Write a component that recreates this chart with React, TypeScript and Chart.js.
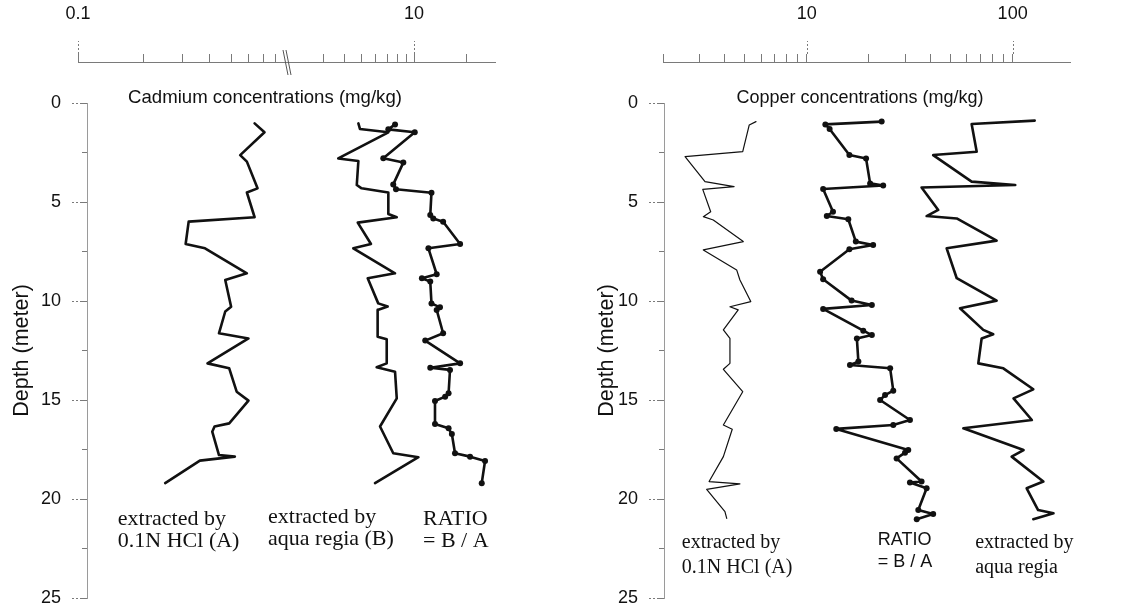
import React, { useEffect, useRef } from 'react';
import { Chart, registerables, LogarithmicScale } from 'chart.js';

Chart.register(...registerables);

const SANS = "'Liberation Sans', Arial, Helvetica, sans-serif";
const SERIF = "'Liberation Serif', 'Times New Roman', Times, serif";
const INK = '#111111';
const AXIS = '#7a7a7a';

// ---- depth axis ----
const depthTicks = [0, 2.5, 5, 7.5, 10, 12.5, 15, 17.5, 20, 22.5, 25];
const depthLabels = [0, 5, 10, 15, 20, 25];

// ---- cadmium (broken log axis) ----
const cdTicks = [0.1, 0.2, 0.3, 0.4, 0.5, 0.6, 0.7, 0.8, 3, 4, 5, 6, 7, 8, 9, 10, 20];
const cdTickLabels = [0.1, 10];

const cdHclDepth = [1.03, 1.48, 2.63, 2.96, 4.31, 4.52, 5.77, 5.99, 7.12, 7.34, 8.6, 8.94, 10.29, 10.53, 11.63, 11.89, 13.15, 13.4, 14.58, 15.03, 16.18, 16.34, 16.6, 17.78, 17.86, 18.06, 19.2];
const cdHclValue = [0.64, 0.71, 0.55, 0.59, 0.66, 0.59, 0.64, 0.32, 0.31, 0.38, 0.59, 0.47, 0.5, 0.47, 0.44, 0.6, 0.39, 0.49, 0.53, 0.6, 0.49, 0.42, 0.41, 0.44, 0.52, 0.36, 0.25];

const cdAquaDepth = [1.03, 1.31, 1.48, 2.8, 2.93, 4.14, 4.31, 4.52, 5.61, 5.77, 6.04, 7.12, 7.34, 8.6, 8.85, 10.12, 10.28, 10.45, 11.8, 11.93, 13.15, 13.35, 13.57, 14.92, 16.34, 17.69, 17.89, 19.2];
const cdAquaValue = [4.79, 4.89, 7.12, 3.67, 4.79, 4.69, 5.0, 7.12, 7.12, 7.96, 4.75, 5.66, 4.48, 7.78, 5.42, 6.23, 7.06, 6.18, 6.18, 6.97, 6.97, 6.1, 7.78, 7.96, 6.38, 7.6, 10.6, 5.97];

const cdRatioDepth = [1.08, 1.33, 1.48, 2.79, 3.01, 4.11, 4.36, 4.53, 5.66, 5.83, 6.0, 7.12, 7.34, 8.65, 8.85, 9.02, 10.12, 10.32, 10.45, 11.63, 12.0, 13.15, 13.37, 13.48, 14.66, 14.83, 15.05, 16.21, 16.43, 16.72, 17.69, 17.86, 18.08, 19.2];
const cdRatioValue = [7.78, 7.12, 10.1, 6.66, 8.68, 7.6, 7.88, 12.6, 12.4, 12.9, 14.7, 18.4, 12.1, 13.5, 11.1, 12.4, 12.6, 14.1, 13.5, 14.7, 11.6, 18.4, 12.4, 16.1, 15.8, 15.1, 13.2, 13.2, 15.8, 16.5, 17.2, 21.0, 25.6, 24.5];

// ---- copper (log axis) ----
const cuTicks = [2, 3, 4, 5, 6, 7, 8, 9, 10, 20, 30, 40, 50, 60, 70, 80, 90, 100];
const cuTickLabels = [10, 100];

const cuHclDepth = [0.94, 1.11, 2.46, 2.71, 3.97, 4.22, 4.36, 5.49, 5.74, 5.91, 7.0, 7.42, 8.43, 8.94, 10.03, 10.29, 10.45, 11.46, 11.89, 13.15, 13.45, 14.58, 16.26, 16.48, 17.86, 19.12, 19.24, 19.51, 20.64, 20.98];
const cuHclValue = [5.66, 5.25, 4.88, 2.56, 3.2, 4.43, 3.12, 3.41, 3.14, 3.51, 4.91, 3.14, 4.56, 4.73, 5.34, 4.23, 4.64, 3.93, 4.23, 4.23, 3.93, 4.88, 3.93, 4.34, 3.93, 3.35, 4.73, 3.26, 4.0, 4.08];

const cuRatioDepth = [0.94, 1.08, 1.31, 2.63, 2.8, 4.06, 4.17, 4.34, 5.49, 5.71, 5.87, 7.0, 7.17, 7.39, 8.52, 8.9, 9.98, 10.2, 10.4, 11.5, 11.72, 11.89, 13.06, 13.23, 13.4, 14.53, 14.75, 15.0, 16.01, 16.26, 16.46, 17.53, 17.66, 17.95, 19.12, 19.17, 19.46, 20.56, 20.76, 21.02];
const cuRatioValue = [23.1, 12.3, 12.9, 16.1, 19.4, 20.3, 23.5, 12.0, 13.4, 12.5, 15.9, 17.3, 21.0, 16.1, 11.6, 12.0, 16.5, 20.7, 12.0, 18.8, 20.7, 17.5, 17.8, 16.2, 25.4, 26.3, 24.0, 22.7, 31.7, 26.3, 13.9, 31.1, 30.0, 27.3, 36.1, 31.7, 38.2, 34.8, 41.1, 34.2];

const cuAquaDepth = [0.89, 1.06, 2.46, 2.63, 3.97, 4.14, 4.27, 5.4, 5.71, 5.83, 6.95, 7.34, 8.85, 9.98, 10.37, 11.46, 11.68, 11.89, 13.15, 13.4, 14.46, 14.92, 16.01, 16.43, 17.53, 17.86, 19.12, 19.46, 20.56, 20.72, 21.02];
const cuAquaValue = [128, 63.2, 66.9, 41.1, 63.2, 103, 36.1, 43.5, 38.2, 53.5, 83.6, 47.8, 53.5, 83.6, 55.5, 72.0, 80.5, 70.7, 68.1, 90.1, 126, 101, 124, 57.6, 113, 98.9, 141, 117, 133, 158, 126];

// ---- broken logarithmic scale ----
class BrokenLogScale extends LogarithmicScale {
  static id = 'brokenLog';
  _parts() {
    const o: any = this.options;
    return {
      lmin: Math.log10(this.min),
      lmax: Math.log10(this.max),
      lLow: Math.log10(o.lowMax),
      lHigh: Math.log10(o.highMin),
      split: o.split,
      lowMax: o.lowMax,
      highMin: o.highMin,
    };
  }
  getPixelForValue(value: any) {
    const p = this._parts();
    let v = Number(value);
    if (!isFinite(v) || v <= 0) v = this.min;
    const lv = Math.log10(v);
    let f;
    if (v <= p.lowMax) f = (p.split * (lv - p.lmin)) / (p.lLow - p.lmin);
    else if (v >= p.highMin) f = p.split + ((1 - p.split) * (lv - p.lHigh)) / (p.lmax - p.lHigh);
    else f = p.split;
    return this.getPixelForDecimal(f);
  }
  getValueForPixel(pixel: number) {
    const p = this._parts();
    const d = this.getDecimalForPixel(pixel);
    if (d <= p.split) return Math.pow(10, p.lmin + (d / p.split) * (p.lLow - p.lmin));
    return Math.pow(10, p.lHigh + ((d - p.split) / (1 - p.split)) * (p.lmax - p.lHigh));
  }
}
Chart.register(BrokenLogScale);

function series(values: number[], depths: number[], width: number, radius: number) {
  return {
    data: values.map((v, i) => ({ x: v, y: depths[i] })),
    borderColor: INK,
    backgroundColor: INK,
    borderWidth: width,
    pointRadius: radius,
    pointHoverRadius: radius,
    pointBackgroundColor: INK,
    pointBorderWidth: 0,
    tension: 0,
    fill: false,
    borderJoinStyle: 'round',
    borderCapStyle: 'round',
  };
}

function makeDecor(cfg: any) {
  return {
    id: 'decor',
    afterLayout(chart: any) {
      const y = chart.scales.y;
      y.left += cfg.yShift;
      y.right += cfg.yShift;
      const t = chart.scales.x2;
      t.left += cfg.titleShift;
      t.right += cfg.titleShift;
    },
    afterDraw(chart: any) {
      const ctx = chart.ctx;
      const xs = chart.scales.x;
      const ys = chart.scales.y;
      ctx.save();
      ctx.strokeStyle = AXIS;
      ctx.lineWidth = 1;
      ctx.setLineDash([2, 2]);
      cfg.xMajor.forEach((v: number) => {
        const px = Math.round(xs.getPixelForValue(v)) + 0.5;
        ctx.beginPath();
        ctx.moveTo(px, xs.bottom - 8);
        ctx.lineTo(px, xs.bottom - 21);
        ctx.stroke();
      });
      depthLabels.forEach((d) => {
        const py = Math.round(ys.getPixelForValue(d)) + 0.5;
        ctx.beginPath();
        ctx.moveTo(ys.right - 5, py);
        ctx.lineTo(ys.right - 17, py);
        ctx.stroke();
      });
      ctx.setLineDash([]);
      if (cfg.breakSplit != null) {
        const bx = xs.getPixelForDecimal(cfg.breakSplit);
        ctx.strokeStyle = '#555';
        [[-5, 0], [-2, 3]].forEach(([a, b]) => {
          ctx.beginPath();
          ctx.moveTo(bx + a, xs.bottom - 12);
          ctx.lineTo(bx + b, xs.bottom + 13);
          ctx.stroke();
        });
      }
      ctx.fillStyle = INK;
      ctx.textAlign = 'left';
      ctx.textBaseline = 'middle';
      cfg.notes.forEach((n: any) => {
        ctx.font = `${n.size}px ${n.family}`;
        const x = xs.getPixelForValue(n.x);
        const y = ys.getPixelForValue(n.depth);
        n.lines.forEach((s: string, i: number) => ctx.fillText(s, x, y + i * n.lineHeight));
      });
      ctx.restore();
    },
  };
}

function yAxis(width: number, titlePad: number) {
  return {
    type: 'linear',
    position: 'left',
    reverse: true,
    min: 0,
    max: 25,
    bounds: 'data',
    afterBuildTicks: (s: any) => {
      s.ticks = depthTicks.map((v) => ({ value: v }));
    },
    afterFit: (s: any) => {
      s.width = width;
      s.paddingTop = 0;
      s.paddingBottom = 0;
    },
    ticks: {
      autoSkip: false,
      padding: 21,
      color: INK,
      font: { family: SANS, size: 18 },
      callback: (v: number) => (depthLabels.includes(v) ? String(v) : ''),
    },
    grid: { display: true, drawOnChartArea: false, drawTicks: true, tickLength: 5, tickColor: AXIS, lineWidth: 1 },
    border: { display: true, color: '#9a9a9a', width: 1, dash: [6, 2] },
    title: {
      display: true,
      text: 'Depth (meter)',
      color: INK,
      font: { family: SANS, size: 21.5 },
      padding: { top: titlePad, bottom: 0 },
    },
  };
}

function titleAxis(text: string, size: number) {
  return {
    type: 'linear',
    position: 'top',
    weight: 0,
    min: 0,
    max: 1,
    afterFit: (s: any) => {
      s.height = 41;
      s.paddingLeft = 0;
      s.paddingRight = 0;
    },
    ticks: { display: false },
    grid: { display: false },
    border: { display: false },
    title: { display: true, text, color: INK, font: { family: SANS, size }, padding: { top: 25, bottom: 0 } },
  };
}

function xTickOpts(labels: number[]) {
  return {
    autoSkip: false,
    maxRotation: 0,
    minRotation: 0,
    padding: 29,
    color: INK,
    font: { family: SANS, size: 18 },
    callback: (v: number) => (labels.includes(v) ? String(v) : ''),
  };
}

function xFit(s: any) {
  s.height = 62;
  s.paddingLeft = 0;
  s.paddingRight = 0;
}

function leftConfig(): any {
  return {
    type: 'line',
    data: {
      datasets: [
        series(cdHclValue, cdHclDepth, 2.6, 0),
        series(cdAquaValue, cdAquaDepth, 2.6, 0),
        series(cdRatioValue, cdRatioDepth, 2.6, 3),
      ],
    },
    options: {
      animation: false,
      responsive: false,
      devicePixelRatio: 1,
      layout: { padding: { left: 0, top: 0, right: 65, bottom: 11 } },
      plugins: { legend: { display: false }, tooltip: { enabled: false } },
      events: [],
      scales: {
        x: {
          type: 'brokenLog',
          position: 'top',
          weight: 1,
          min: 0.1,
          max: 29.2,
          lowMax: 0.909,
          highMin: 1.888,
          split: 0.5036,
          bounds: 'data',
          afterBuildTicks: (s: any) => {
            s.ticks = cdTicks.map((v) => ({ value: v }));
          },
          afterFit: xFit,
          ticks: xTickOpts(cdTickLabels),
          grid: { display: true, drawOnChartArea: false, drawTicks: true, tickLength: 8, tickColor: AXIS, lineWidth: 1 },
          border: { display: true, color: AXIS, width: 1 },
        },
        x2: titleAxis('Cadmium concentrations (mg/kg)', 18.6),
        y: yAxis(78, 0),
      },
    },
    plugins: [
      makeDecor({
        yShift: 9,
        titleShift: -21.5,
        xMajor: cdTickLabels,
        breakSplit: 0.5036,
        notes: [
          { lines: ['extracted by', '0.1N HCl (A)'], x: 0.152, depth: 21.0, size: 22, family: SERIF, lineHeight: 22 },
          { lines: ['extracted by', 'aqua regia (B)'], x: 0.737, depth: 20.9, size: 22, family: SERIF, lineHeight: 22 },
          { lines: ['RATIO', '= B / A'], x: 11.26, depth: 21.0, size: 22, family: SERIF, lineHeight: 22 },
        ],
      }),
    ],
  };
}

function rightConfig(): any {
  return {
    type: 'line',
    data: {
      datasets: [
        series(cuHclValue, cuHclDepth, 1.2, 0),
        series(cuRatioValue, cuRatioDepth, 2.6, 3),
        series(cuAquaValue, cuAquaDepth, 2.6, 0),
      ],
    },
    options: {
      animation: false,
      responsive: false,
      devicePixelRatio: 1,
      layout: { padding: { left: 0, top: 0, right: 57, bottom: 11 } },
      plugins: { legend: { display: false }, tooltip: { enabled: false } },
      events: [],
      scales: {
        x: {
          type: 'logarithmic',
          position: 'top',
          weight: 1,
          min: 2,
          max: 190,
          bounds: 'data',
          afterBuildTicks: (s: any) => {
            s.ticks = cuTicks.map((v) => ({ value: v }));
          },
          afterFit: xFit,
          ticks: xTickOpts(cuTickLabels),
          grid: { display: true, drawOnChartArea: false, drawTicks: true, tickLength: 8, tickColor: AXIS, lineWidth: 1 },
          border: { display: true, color: AXIS, width: 1 },
        },
        x2: titleAxis('Copper concentrations (mg/kg)', 18),
        y: yAxis(103, 33),
      },
    },
    plugins: [
      makeDecor({
        yShift: 1,
        titleShift: -6.5,
        xMajor: cuTickLabels,
        breakSplit: null,
        notes: [
          { lines: ['extracted by', '0.1N HCl (A)'], x: 2.47, depth: 22.2, size: 20, family: SERIF, lineHeight: 25 },
          { lines: ['RATIO', '= B / A'], x: 22.1, depth: 22.07, size: 18, family: SANS, lineHeight: 22.5 },
          { lines: ['extracted by', 'aqua regia'], x: 65.8, depth: 22.2, size: 20, family: SERIF, lineHeight: 25 },
        ],
      }),
    ],
  };
}

export default function App() {
  const leftRef = useRef<HTMLCanvasElement>(null);
  const rightRef = useRef<HTMLCanvasElement>(null);
  useEffect(() => {
    const a = new Chart(leftRef.current as HTMLCanvasElement, leftConfig());
    const b = new Chart(rightRef.current as HTMLCanvasElement, rightConfig());
    return () => {
      a.destroy();
      b.destroy();
    };
  }, []);
  return (
    <div style={{ position: 'absolute', left: 0, top: 0, width: 1127, height: 609, background: '#ffffff', overflow: 'hidden' }}>
      <canvas ref={leftRef} width={560} height={609} style={{ position: 'absolute', left: 0, top: 0, width: 560, height: 609 }} />
      <canvas ref={rightRef} width={567} height={609} style={{ position: 'absolute', left: 560, top: 0, width: 567, height: 609 }} />
    </div>
  );
}
